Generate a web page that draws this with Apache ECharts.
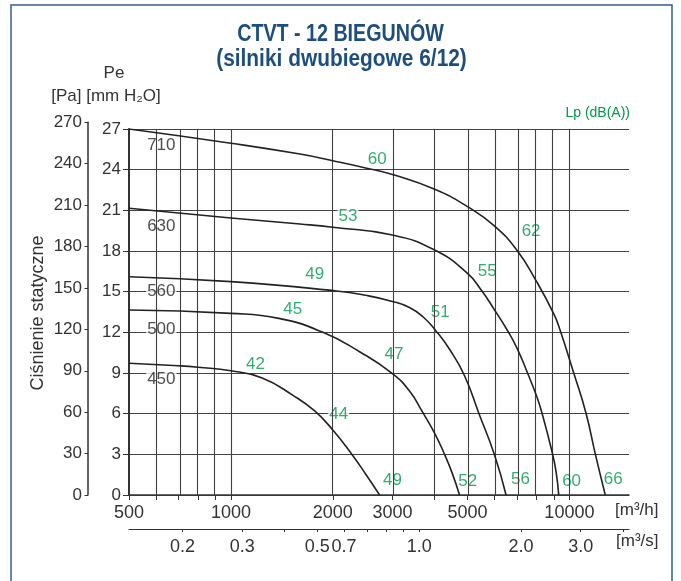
<!DOCTYPE html>
<html><head><meta charset="utf-8">
<script src="https://cdn.jsdelivr.net/npm/echarts@6/dist/echarts.min.js"></script>
<style>html,body{margin:0;padding:0;background:#fff}#c{width:681px;height:581px}</style>
</head><body><div id="c"></div>
<script>
// ---- data (flow in m3/h, static pressure in Pa) ----
const curveNames = ['710', '630', '560', '500', '450'];
const q710 = [500, 1000, 1600, 2000, 2500, 3000, 4000, 5000, 6000, 7000, 8000, 9000, 9384, 10294, 11197, 11929, 12766];
const p710 = [270, 259.5, 251.5, 246.6, 241.3, 236.4, 225.5, 212.7, 198.5, 180.5, 157.4, 133.5, 121.7, 90.2, 60.3, 30.2, 0];
const q630 = [500, 1000, 1600, 2000, 3000, 4000, 5000, 5490, 6000, 6575, 7000, 7480, 8000, 8250, 8890, 9135, 9300];
const p630 = [211.5, 204.3, 199.9, 197.5, 191.8, 180.7, 163.5, 151.2, 136.8, 121, 108.4, 91.5, 73, 62.7, 31.7, 17, 0];
const q560 = [500, 1000, 2050, 2500, 3000, 3370, 3700, 4024, 4425, 4900, 5400, 6000, 6500];
const p560 = [161, 157.4, 150.5, 147.3, 142.8, 138.3, 131.3, 121.4, 107.5, 88, 60.3, 30, 0];
const q500 = [500, 1000, 1385, 1870, 2400, 3000, 3370, 3676, 4000, 4277, 4500, 4736];
const p500 = [136.5, 134, 130.3, 120, 105.7, 89.6, 76.7, 61.5, 45.5, 30, 16.5, 0];
const q450 = [500, 700, 800, 1000, 1237, 1526, 1768, 2000, 2270, 2500, 2750];
const p450 = [97.2, 95.3, 94.2, 91.6, 86.3, 73.5, 62, 48, 30.5, 15.5, 0];

const flowMin = 500, flowMax = 15000;           // m3/h axis range
const flowGridM3h = [600, 700, 800, 900, 1000, 2000, 3000, 4000, 5000, 6000, 7000, 8000, 9000, 10000];
const flowTicksM3h = [500, 600, 700, 800, 900, 1000, 2000, 3000, 4000, 5000, 6000, 7000, 8000, 9000, 10000];
const flowLabelsM3h = [500, 1000, 2000, 3000, 5000, 10000];
const flowTicksM3s = [0.2, 0.3, 0.4, 0.5, 0.6, 0.7, 0.8, 0.9, 1.0, 2.0, 3.0, 4.0];
const flowLabelPosM3s = [0.2, 0.3, 0.5, 0.6, 1.0, 2.0, 3.0];
const flowLabelTextM3s = ['0.2', '0.3', '0.5', '0.7', '1.0', '2.0', '3.0'];
const paMax = 270, paStep = 30;
const mmMax = 27, mmStep = 3;

// noise level annotations Lp dB(A): [flow m3/h, pressure Pa, text]
const noiseLabels = [
  [2707, 247.9, '60'], [2218, 205.3, '53'], [1768, 163, '49'], [1523, 137.2, '45'], [1182, 96.4, '42'],
  [7706, 194.7, '62'], [5717, 164.7, '55'], [4154, 134.8, '51'], [3031, 104, '47'], [2082, 59.8, '44'],
  [3000, 10.5, '49'], [5008, 9.8, '52'], [7166, 11.6, '56'], [10150, 9.8, '60'], [13480, 11.6, '66']
];
// fan size annotations: [flow m3/h, pressure Pa, text]
const sizeLabels = [
  [623, 258.2, '710'], [623, 198.4, '630'], [623, 150, '560'], [623, 122.5, '500'], [623, 85.3, '450']
];

// ---- chart ----
const L = Math.log10;
const FONT = "'Liberation Sans', Arial, sans-serif";
const GREEN = '#00994a';
const TITLE_BLUE = '#1d4e7e';
const curvesQ = [q710, q630, q560, q500, q450];
const curvesP = [p710, p630, p560, p500, p450];

const curveSeries = curveNames.map((n, k) => ({
  name: n, type: 'line', xAxisIndex: 0, yAxisIndex: 0, z: 5,
  smooth: 0.5, symbol: 'none', silent: true,
  lineStyle: { color: '#222', width: 1.6 },
  data: curvesQ[k].map((q, i) => [L(q), curvesP[k][i]])
}));

const chart = echarts.init(document.getElementById('c'), null, { renderer: 'canvas' });
chart.setOption({
  animation: false,
  backgroundColor: '#fff',
  grid: [
    { left: 129, right: 52, top: 129, bottom: 86 },
    { left: 88, right: 592, top: 122.3, bottom: 86 }
  ],
  xAxis: [
    {
      type: 'value', gridIndex: 0, min: L(flowMin), max: L(flowMax), position: 'bottom',
      axisLine: { show: true, onZero: false, lineStyle: { color: '#333', width: 1.5 } },
      axisTick: { show: true, length: 5, customValues: flowTicksM3h.map(L), lineStyle: { color: '#333' } },
      axisLabel: { customValues: flowLabelsM3h.map(L), formatter: v => String(Math.round(Math.pow(10, v))), margin: 9, fontSize: 18, color: '#333', fontFamily: FONT },
      splitLine: { show: false }
    },
    {
      type: 'value', gridIndex: 0, min: L(flowMin / 3600), max: L(flowMax / 3600), position: 'bottom', offset: 34,
      axisLine: { show: true, onZero: false, lineStyle: { color: '#333', width: 1.2 } },
      axisTick: { show: true, length: 3, customValues: flowTicksM3s.map(L), lineStyle: { color: '#333' } },
      axisLabel: {
        customValues: flowLabelPosM3s.map(L), margin: 9, fontSize: 18, color: '#333', fontFamily: FONT,
        formatter: v => { let b = 0, d = 1e9; flowLabelPosM3s.forEach((s, i) => { const e = Math.abs(L(s) - v); if (e < d) { d = e; b = i; } }); return flowLabelTextM3s[b]; }
      },
      splitLine: { show: false }
    },
    { type: 'value', gridIndex: 1, show: false, min: 0, max: 1 }
  ],
  yAxis: [
    { type: 'value', gridIndex: 0, min: 0, max: paMax, show: false },
    {
      type: 'value', gridIndex: 0, min: 0, max: mmMax, interval: mmStep, position: 'left',
      axisLine: { show: true, onZero: false, lineStyle: { color: '#333', width: 2 } },
      axisTick: { show: true, length: 6, lineStyle: { color: '#333' } },
      axisLabel: { margin: 8, fontSize: 17, color: '#333', fontFamily: FONT },
      splitLine: { show: true, lineStyle: { color: '#444', width: 1 } }
    },
    {
      type: 'value', gridIndex: 1, min: 0, max: paMax, interval: paStep, position: 'left',
      axisLine: { show: true, onZero: false, lineStyle: { color: '#333', width: 1.5 } },
      axisTick: { show: true, length: 3.5, lineStyle: { color: '#333' } },
      axisLabel: { margin: 6, fontSize: 17, color: '#333', fontFamily: FONT },
      splitLine: { show: false }
    }
  ],
  series: [
    {
      type: 'line', xAxisIndex: 0, yAxisIndex: 0, data: [], z: 1, silent: true,
      markLine: {
        silent: true, symbol: ['none', 'none'], label: { show: false }, animation: false,
        lineStyle: { color: '#404040', width: 1.1, type: 'solid' },
        data: flowGridM3h.map(q => ({ xAxis: L(q) })).concat([{ xAxis: L(flowMax), lineStyle: { color: '#333', width: 1.5, type: 'solid' } }])
      }
    },
    {
      type: 'scatter', xAxisIndex: 0, yAxisIndex: 0, z: 3, silent: true, symbolSize: 0,
      data: noiseLabels.map(a => [L(a[0]), a[1], a[2]]),
      label: { show: true, position: 'inside', formatter: p => p.data[2], color: GREEN, fontSize: 17, fontFamily: FONT, backgroundColor: '#fff', padding: [0, 1] }
    },
    {
      type: 'scatter', xAxisIndex: 0, yAxisIndex: 0, z: 3, silent: true, symbolSize: 0,
      data: sizeLabels.map(a => [L(a[0]), a[1], a[2]]),
      label: { show: true, position: 'inside', formatter: p => p.data[2], color: '#222', fontSize: 17, fontFamily: FONT, backgroundColor: '#fff', padding: [0, 1] }
    }
  ].concat(curveSeries),
  graphic: [
    { type: 'rect', silent: true, shape: { x: 11, y: 5, width: 661, height: 620 }, style: { fill: 'none', stroke: '#2e6095', lineWidth: 1.5 } },
    { type: 'text', x: 340.5, y: 34, scaleX: 0.82, style: { text: 'CTVT - 12 BIEGUNÓW', font: 'bold 24px ' + FONT, fill: TITLE_BLUE, align: 'center', verticalAlign: 'middle' } },
    { type: 'text', x: 341.5, y: 59, scaleX: 0.87, style: { text: '(silniki dwubiegowe 6/12)', font: 'bold 24px ' + FONT, fill: TITLE_BLUE, align: 'center', verticalAlign: 'middle' } },
    { type: 'text', x: 114, y: 73, style: { text: 'Pe', font: '17px ' + FONT, fill: '#333', align: 'center', verticalAlign: 'middle' } },
    { type: 'text', x: 106, y: 96, style: { text: '[Pa] [mm H₂O]', font: '17px ' + FONT, fill: '#333', align: 'center', verticalAlign: 'middle' } },
    { type: 'text', x: 38, y: 313, rotation: Math.PI / 2, style: { text: 'Ciśnienie statyczne', font: '18px ' + FONT, fill: '#333', align: 'center', verticalAlign: 'middle' } },
    { type: 'text', x: 630, y: 113, style: { text: 'Lp (dB(A))', font: '14px ' + FONT, fill: GREEN, align: 'right', verticalAlign: 'middle' } },
    { type: 'text', x: 615, y: 510, style: { text: '[m³/h]', font: '17px ' + FONT, fill: '#333', align: 'left', verticalAlign: 'middle' } },
    { type: 'text', x: 616, y: 541.5, style: { text: '[m³/s]', font: '17px ' + FONT, fill: '#333', align: 'left', verticalAlign: 'middle' } }
  ]
});
</script>
</body></html>
